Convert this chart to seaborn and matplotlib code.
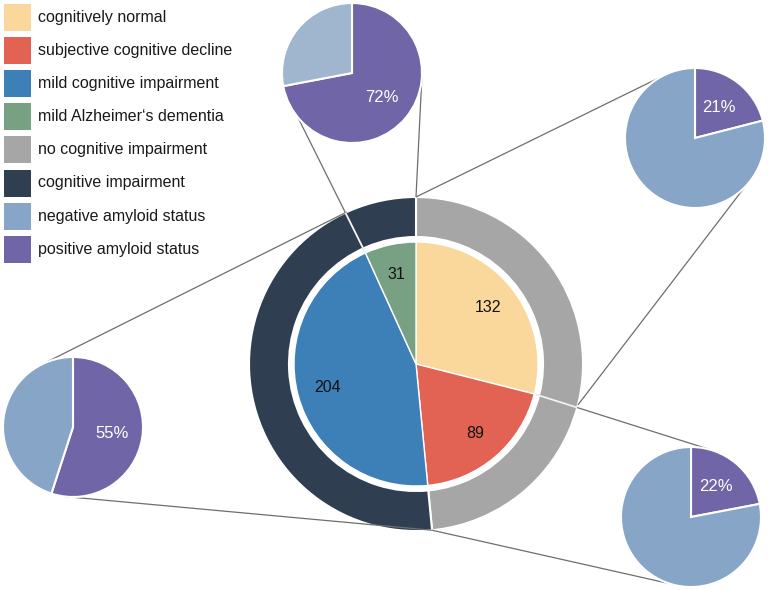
import numpy as np
import matplotlib
matplotlib.use("Agg")
import matplotlib.pyplot as plt
import seaborn as sns
from matplotlib.patches import Rectangle, Circle

# ---------------- data ----------------
inner_labels = ["cognitively normal", "subjective cognitive decline",
                "mild cognitive impairment", "mild Alzheimer\u2018s dementia"]
inner_values = [132, 89, 204, 31]
outer_labels = ["no cognitive impairment", "cognitive impairment"]
outer_values = [221, 235]
amyloid_labels = ["negative amyloid status", "positive amyloid status"]
positive_pct = [21, 22, 55, 72]   # CN, SCD, MCI, AD

inner_colors = ["#fad79b", "#e26353", "#3d7fb7", "#78a083"]
outer_colors = ["#a6a6a6", "#2f3e51"]
neg_color = "#87a5c6"
pos_color = "#7065a6"

sns.set_theme(style="white")
plt.rcParams["font.family"] = ["Liberation Sans", "DejaVu Sans"]

W, H = 768, 590
fig = plt.figure(figsize=(7.68, 5.9), dpi=100)
ax = fig.add_axes([0, 0, 1, 1])

def Y(y):
    return H - y

MC = (416, Y(364))
R_IN, R_RING_IN, R_OUT = 122, 127, 167

# ring
ax.pie(outer_values, radius=R_OUT, center=MC, startangle=90, counterclock=False,
       colors=outer_colors,
       wedgeprops=dict(width=R_OUT - R_RING_IN, edgecolor="white", linewidth=1.5, zorder=1))
# inner pie
wedges, texts = ax.pie(inner_values, radius=R_IN, center=MC, startangle=90, counterclock=False,
                       colors=inner_colors, labels=[str(v) for v in inner_values],
                       labeldistance=0.75,
                       wedgeprops=dict(edgecolor="white", linewidth=1.0, zorder=3),
                       textprops=dict(fontsize=11.5, color="#111111"))
for t in texts:
    t.set_ha("center"); t.set_va("center"); t.set_zorder(4)

# boundaries of inner slices (clockwise from top, degrees)
cum = np.cumsum([0] + inner_values) / sum(inner_values) * 360
b_cn, b_scd, b_mci = cum[1], cum[2], cum[3]

def pt(c, r, a):
    a = np.deg2rad(a)
    return (c[0] + r * np.sin(a), c[1] + r * np.cos(a))

# small pies: (positive %, center, negative colour, connectors[(main angle, main radius, small angle)])
RS = 70
small = [
    (positive_pct[3], (352, Y(73)), "#a0b5ce", [(b_mci, R_IN, 230.5), (0, R_OUT, 91.6)]),
    (positive_pct[0], (695, Y(138)), neg_color, [(0, R_OUT, 330), (b_cn, R_OUT, 119.4)]),
    (positive_pct[1], (691, Y(517)), neg_color, [(b_cn, R_IN, 18), (b_scd, R_OUT, 187.5)]),
    (positive_pct[2], (73, Y(427)), neg_color, [(b_mci, R_OUT, 336.7), (b_scd, R_OUT, 186.7)]),
]

clip_circle = Circle(MC, R_OUT, transform=ax.transData)
for pos, c, ncol, conns in small:
    _, st = ax.pie([pos, 100 - pos], radius=RS, center=c, startangle=90, counterclock=False,
                   colors=[pos_color, ncol], labels=[f"{pos}%", ""], labeldistance=0.56,
                   wedgeprops=dict(edgecolor="white", linewidth=1.5, zorder=3),
                   textprops=dict(fontsize=12, color="white"))
    for t in st:
        t.set_ha("center"); t.set_va("center"); t.set_zorder(4)
    for ma, mr, sa in conns:
        p1 = pt(MC, mr, ma)
        p2 = pt(c, RS, sa)
        ax.plot([p1[0], p2[0]], [p1[1], p2[1]], color="#6e6e6e", lw=0.9, zorder=2,
                solid_capstyle="butt")
        if mr < R_OUT:
            ln, = ax.plot([p1[0], p2[0]], [p1[1], p2[1]], color="#f4f4f4", lw=1.3, zorder=2.1)
            ln.set_clip_path(clip_circle)

# legend
leg_labels = inner_labels + outer_labels + amyloid_labels
leg_colors = inner_colors + outer_colors + [neg_color, pos_color]
for i, (lab, col) in enumerate(zip(leg_labels, leg_colors)):
    yc = 17.5 + i * 33.1
    ax.add_patch(Rectangle((4, Y(yc + 13.5)), 27, 27, facecolor=col, edgecolor="none", zorder=5))
    ax.text(38, Y(yc), lab, fontsize=11.5, color="#1a1a1a", ha="left", va="center", zorder=5)

ax.set_xlim(0, W)
ax.set_ylim(0, H)
ax.set_aspect("equal")
ax.axis("off")
fig.savefig("out.png", dpi=100, facecolor="white")
